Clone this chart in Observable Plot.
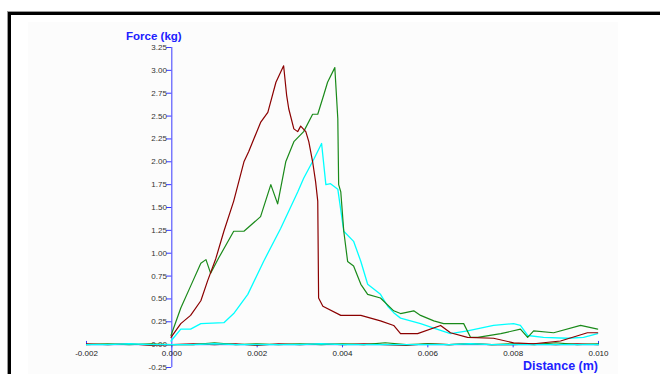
<!DOCTYPE html>
<html>
<head>
<meta charset="utf-8">
<script src="https://cdn.jsdelivr.net/npm/d3@7"></script>
<script src="https://cdn.jsdelivr.net/npm/@observablehq/plot@0.6"></script>
<style>
  html, body { margin: 0; padding: 0; background: #fff; }
  #wrap { position: relative; width: 660px; height: 374px; overflow: hidden; font-family: "Liberation Sans", Arial, sans-serif; }
  #frame { position: absolute; left: 8px; top: 12px; width: 700px; height: 400px; border-top: 3px solid #000; border-left: 3px solid #000; box-shadow: -1px -1px 0 #999; }
  #inner { position: absolute; left: 28px; top: 22px; width: 590px; height: 360px; background: #fcfcfc; }
  #chart { position: absolute; left: 0; top: 0; }
</style>
</head>
<body>
<div id="wrap">
  <div id="frame"></div>
  <div id="inner"></div>
  <div id="chart"></div>
</div>
<script>
// Axis ticks
const yTicks = [-0.25, 0, 0.25, 0.5, 0.75, 1.0, 1.25, 1.5, 1.75, 2.0, 2.25, 2.5, 2.75, 3.0, 3.25];
const xTicks = [-0.002, 0, 0.002, 0.004, 0.006, 0.008, 0.010];
const xTickLabels = ["-0.002", "0.000", "0.002", "0.004", "0.006", "0.008", "0.010"];

// Red (dark red) trace
const redX = [-0.00002, 0.00021, 0.00044, 0.00068, 0.00084, 0.00103, 0.00122, 0.00145, 0.00169, 0.0018, 0.00208, 0.00225, 0.00244, 0.00262,
  0.00269, 0.00274, 0.00286, 0.00295, 0.00302, 0.00314, 0.00321, 0.0033, 0.00337, 0.00342, 0.00344, 0.00354, 0.00396, 0.00443, 0.00489,
  0.0052, 0.00536, 0.00576, 0.0063, 0.00653, 0.00693, 0.00754, 0.00801, 0.00848, 0.00911, 0.00974, 0.00998];
const redY = [0.08, 0.23, 0.32, 0.48, 0.70, 0.94, 1.24, 1.57, 2.0, 2.11, 2.43, 2.54, 2.87, 3.05,
  2.73, 2.58, 2.36, 2.33, 2.39, 2.33, 2.22, 2.0, 1.78, 1.57, 0.51, 0.42, 0.32, 0.32, 0.26,
  0.21, 0.12, 0.12, 0.21, 0.13, 0.08, 0.07, 0.02, 0.01, 0.04, 0.13, 0.13];

// Green trace
const greenX = [-0.00002, 0.00021, 0.00044, 0.00068, 0.0008, 0.00091, 0.0011, 0.00145, 0.00169, 0.00208, 0.00232, 0.00248, 0.00267, 0.00286,
  0.00309, 0.0033, 0.00342, 0.00356, 0.00365, 0.00382, 0.00389, 0.00391, 0.00396, 0.00403, 0.00412, 0.00426, 0.00443, 0.00459, 0.00489,
  0.0052, 0.00536, 0.00567, 0.00583, 0.00614, 0.00637, 0.00684, 0.007, 0.00717, 0.00771, 0.00817, 0.00834, 0.00848, 0.00895, 0.00958, 0.00998];
const greenY = [0.1, 0.40, 0.64, 0.89, 0.93, 0.78, 0.95, 1.24, 1.24, 1.40, 1.75, 1.54, 2.0, 2.22,
  2.33, 2.52, 2.52, 2.73, 2.87, 3.03, 2.47, 1.75, 1.67, 1.24, 0.91, 0.86, 0.66, 0.55, 0.51,
  0.37, 0.34, 0.37, 0.32, 0.26, 0.23, 0.23, 0.08, 0.08, 0.12, 0.17, 0.08, 0.15, 0.13, 0.21, 0.17];

// Cyan trace
const cyanX = [-0.00002, 0.00021, 0.00044, 0.00068, 0.00122, 0.00145, 0.00178, 0.00215, 0.00255, 0.00295, 0.00309, 0.00333, 0.00351,
  0.00361, 0.00372, 0.00389, 0.00403, 0.00426, 0.00443, 0.00459, 0.00489, 0.00506, 0.0052, 0.00536, 0.00583, 0.00614, 0.00653,
  0.00693, 0.00754, 0.00801, 0.00817, 0.00834, 0.00871, 0.00927, 0.00965, 0.00998];
const cyanY = [0.04, 0.17, 0.17, 0.23, 0.24, 0.34, 0.55, 0.91, 1.27, 1.67, 1.82, 2.03, 2.2,
  1.75, 1.76, 1.70, 1.24, 1.13, 0.91, 0.66, 0.55, 0.42, 0.35, 0.29, 0.23, 0.18, 0.12,
  0.15, 0.21, 0.23, 0.21, 0.10, 0.08, 0.07, 0.08, 0.12];

// Near-zero baseline passes
const baseX = [-0.002, -0.0015, -0.001, -0.0005, 0, 0.0005, 0.001, 0.0015, 0.002, 0.0025, 0.003, 0.0035, 0.004,
  0.0045, 0.005, 0.0055, 0.006, 0.0065, 0.007, 0.0075, 0.008, 0.0085, 0.009, 0.0095, 0.010];
const baseRed   = [0.01, 0.0, 0.01, -0.01, 0.0, 0.01, 0.0, 0.01, -0.01, 0.01, 0.0, 0.01, 0.0, 0.01, 0.0, -0.01, 0.01, 0.0, 0.01, 0.0, 0.0, 0.01, 0.0, 0.01, 0.0];
const baseGreen = [0.0, 0.01, 0.0, 0.01, 0.0, 0.0, 0.02, 0.0, 0.01, 0.0, 0.01, 0.0, 0.01, 0.0, 0.02, 0.0, 0.01, 0.0, 0.01, 0.0, 0.01, 0.0, 0.02, 0.0, 0.01];
const baseCyan  = [0.0, 0.0, 0.01, 0.0, 0.0, 0.0, 0.01, 0.0, 0.0, 0.0, 0.0, 0.01, 0.0, 0.0, 0.0, 0.0, 0.0, 0.0, 0.01, 0.0, 0.0, 0.0, 0.0, 0.0, 0.0];

const toPts = (xs, ys) => xs.map((x, i) => ({x, y: ys[i]}));
const blue = "#3a3aff";
const titleBlue = "#2020ff";

const chart = Plot.plot({
  width: 660,
  height: 374,
  marginLeft: 86,
  marginRight: 62,
  marginTop: 47,
  marginBottom: 7,
  style: {background: "transparent", fontFamily: "'Liberation Sans', Arial, sans-serif", overflow: "visible"},
  x: {domain: [-0.002, 0.010], axis: null},
  y: {domain: [-0.25, 3.25], axis: null},
  marks: [
    // axes
    Plot.ruleY([0], {x1: -0.002, x2: 0.010, stroke: blue, strokeWidth: 1}),
    Plot.ruleX([0], {y1: -0.25, y2: 3.25, stroke: blue, strokeWidth: 1}),
    Plot.ruleY(yTicks, {y: d => d, x1: -0.00012, x2: 0, stroke: blue}),
    Plot.text(yTicks, {x: 0, y: d => d, text: d => d.toFixed(2), textAnchor: "end", dx: -5, fontSize: 8, fill: "#333"}),
    Plot.ruleX(xTicks.slice(1, -1), {x: d => d, y1: -0.035, y2: 0, stroke: blue}),
    Plot.ruleX([xTicks[0], xTicks[xTicks.length - 1]], {x: d => d, y1: 0, y2: 0.035, stroke: blue}),
    Plot.text(xTicks, {x: d => d, y: 0, dy: 9, text: (d, i) => xTickLabels[i], fontSize: 8, fill: "#222"}),
    // baseline passes
    Plot.line(toPts(baseX, baseRed), {x: "x", y: "y", stroke: "#8b0000", strokeWidth: 1.1}),
    Plot.line(toPts(baseX, baseGreen), {x: "x", y: "y", stroke: "#1a8a1a", strokeWidth: 1.1}),
    Plot.line(toPts(baseX, baseCyan), {x: "x", y: "y", stroke: "#00ffff", strokeWidth: 1.4}),
    // main traces
    Plot.line(toPts(cyanX, cyanY), {x: "x", y: "y", stroke: "#00ffff", strokeWidth: 1.3}),
    Plot.line(toPts(greenX, greenY), {x: "x", y: "y", stroke: "#1a8a1a", strokeWidth: 1.2}),
    Plot.line(toPts(redX, redY), {x: "x", y: "y", stroke: "#8b0000", strokeWidth: 1.2}),
    // axis titles
    Plot.text(["Force (kg)"], {x: 0, y: 3.25, dx: -18, dy: -11, text: d => d, fontSize: 11.5, fontWeight: "bold", fill: titleBlue}),
    Plot.text(["Distance (m)"], {x: 0.010, y: 0, dx: -38, dy: 21, text: d => d, fontSize: 12.5, fontWeight: "bold", fill: titleBlue})
  ]
});
document.getElementById("chart").appendChild(chart);
</script>
</body>
</html>
